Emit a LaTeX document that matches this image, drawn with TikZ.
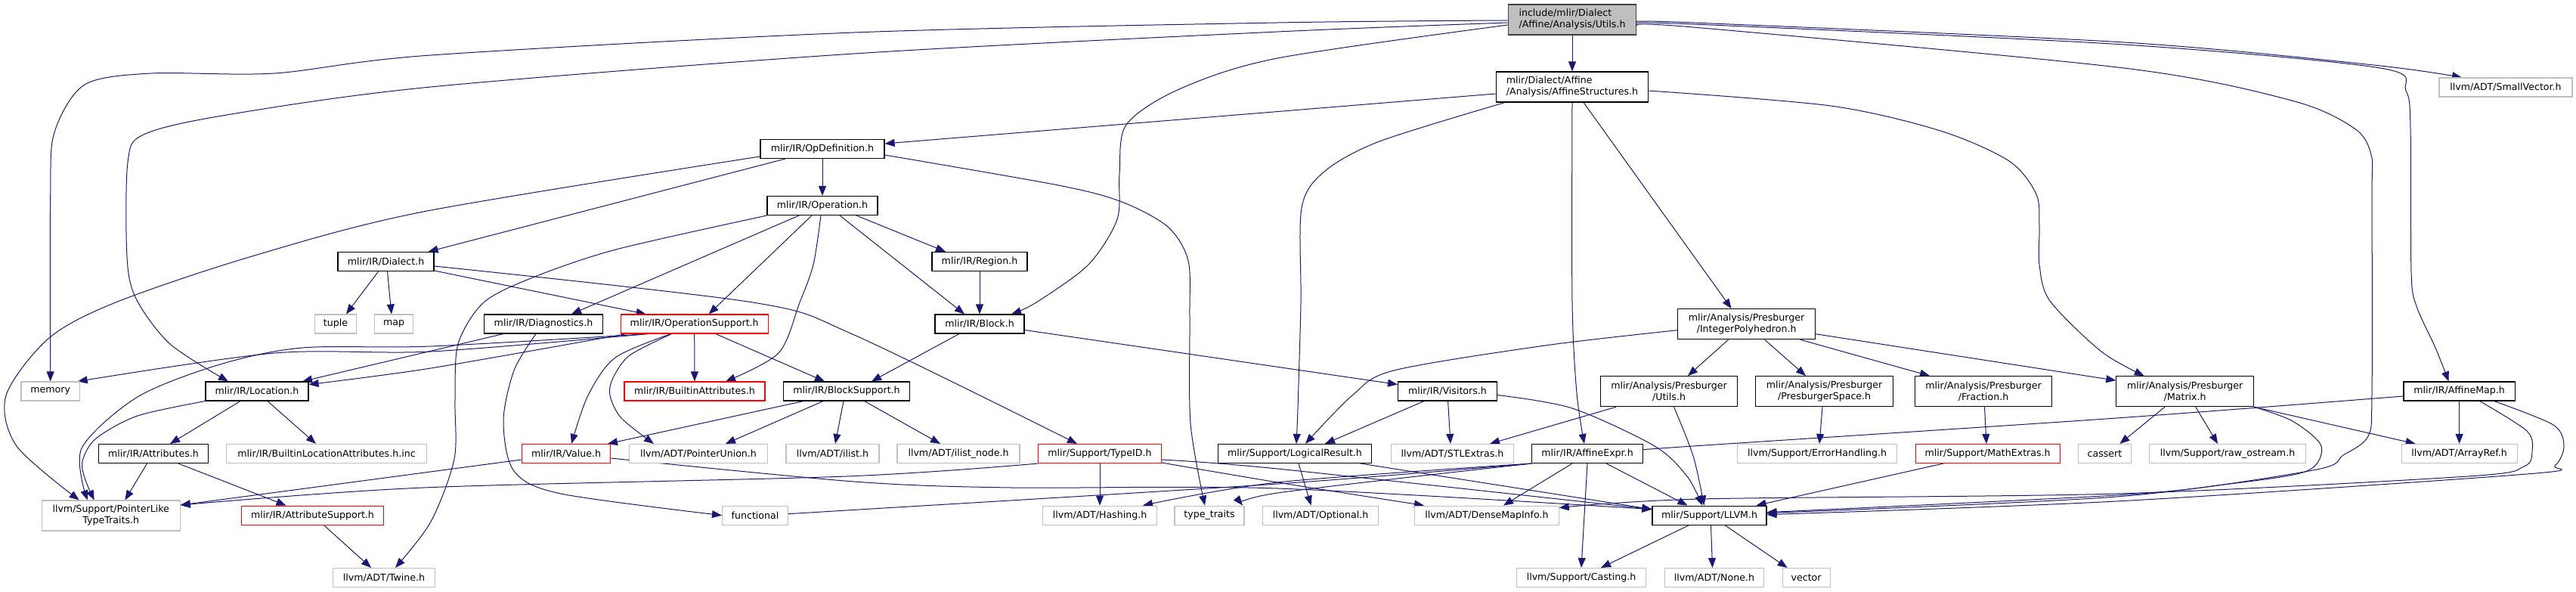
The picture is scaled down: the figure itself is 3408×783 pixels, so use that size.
\documentclass[tikz,border=0pt]{standalone}
\usepackage{fontspec}
\setmainfont{DejaVu Sans}
\usetikzlibrary{arrows.meta,backgrounds}
\definecolor{edgeblue}{HTML}{191970}
\definecolor{greyl}{HTML}{BFBFBF}
\definecolor{greyd}{HTML}{404040}
\tikzset{
  box/.style={draw, line width=1.1pt, inner sep=0pt, minimum height=25pt, fill=white, text=black,
    font=\fontsize{12.6pt}{15pt}\selectfont},
  doc/.style={box, draw=black},
  ext/.style={box, draw=greyl},
  trunc/.style={box, draw=red},
  rootnode/.style={box, draw=greyd, fill=greyl},
  two/.style={minimum height=40pt, align=center},
  edge/.style={draw=edgeblue, line width=1pt, -{Triangle[length=13pt,width=10pt]}}
}
\begin{document}
\begin{tikzpicture}[x=1pt,y=-1pt]
\useasboundingbox (0,0) rectangle (3408,783);
% nodes
\node[rootnode, minimum width=169.5pt, minimum height=40pt, align=left] (root) at (2080,26) {include/mlir/Dialect\\/Affine/Analysis/Utils.h};
\node[doc, minimum width=201.5pt, minimum height=40pt, align=left] (affstr) at (2080,115) {mlir/Dialect/Affine\\/Analysis/AffineStructures.h};
\node[ext, minimum width=176pt] (smallvec) at (3315,115.5) {llvm/ADT/SmallVector.h};
\node[doc, minimum width=164pt] (opdef) at (1088,197) {mlir/IR/OpDefinition.h};
\node[doc, minimum width=146pt] (operation) at (1088,272) {mlir/IR/Operation.h};
\node[doc, minimum width=127pt] (dialect) at (510.5,346) {mlir/IR/Dialect.h};
\node[doc, minimum width=126pt] (region) at (1296,346) {mlir/IR/Region.h};
\node[ext, minimum width=55pt] (tuple) at (444,428.5) {tuple};
\node[ext, minimum width=51pt] (map) at (521,428.5) {map};
\node[doc, minimum width=157pt] (diag) at (719,428.5) {mlir/IR/Diagnostics.h};
\node[trunc, minimum width=195pt] (opsupport) at (918.7,428.5) {mlir/IR/OperationSupport.h};
\node[doc, minimum width=118pt] (block) at (1296,428.5) {mlir/IR/Block.h};
\node[doc, two, minimum width=181.6pt] (intpoly) at (2310.6,428.7) {mlir/Analysis/Presburger\\/IntegerPolyhedron.h};
\node[ext, minimum width=77.4pt] (memory) at (66.7,517.5) {memory};
\node[doc, minimum width=136pt] (location) at (340,517.5) {mlir/IR/Location.h};
\node[trunc, minimum width=186pt] (builtinattr) at (919,517.5) {mlir/IR/BuiltinAttributes.h};
\node[doc, minimum width=167pt] (blocksupport) at (1120,517.5) {mlir/IR/BlockSupport.h};
\node[doc, minimum width=131pt] (visitors) at (1915,517.5) {mlir/IR/Visitors.h};
\node[doc, two, minimum width=181.7pt] (putils) at (2208,517.7) {mlir/Analysis/Presburger\\/Utils.h};
\node[doc, two, minimum width=181.4pt] (pspace) at (2413.6,517.7) {mlir/Analysis/Presburger\\/PresburgerSpace.h};
\node[doc, two, minimum width=181.4pt] (fraction) at (2624,517.7) {mlir/Analysis/Presburger\\/Fraction.h};
\node[doc, two, minimum width=181.7pt] (matrix) at (2890.7,517.7) {mlir/Analysis/Presburger\\/Matrix.h};
\node[doc, minimum width=147.3pt] (affmap) at (3253.6,517.5) {mlir/IR/AffineMap.h};
\node[doc, minimum width=145.5pt] (attributes) at (203,600) {mlir/IR/Attributes.h};
\node[ext, minimum width=265.5pt] (blainc) at (432,600) {mlir/IR/BuiltinLocationAttributes.h.inc};
\node[trunc, minimum width=117.5pt] (value) at (749,600) {mlir/IR/Value.h};
\node[ext, minimum width=183pt] (punion) at (924,600) {llvm/ADT/PointerUnion.h};
\node[ext, minimum width=123pt] (ilist) at (1101.5,600) {llvm/ADT/ilist.h};
\node[ext, minimum width=162pt] (ilistnode) at (1268,600) {llvm/ADT/ilist\_node.h};
\node[trunc, minimum width=163pt] (typeid) at (1455,600) {mlir/Support/TypeID.h};
\node[doc, minimum width=203.7pt] (logres) at (1713,600) {mlir/Support/LogicalResult.h};
\node[ext, minimum width=162.5pt] (stlextras) at (1921.5,600) {llvm/ADT/STLExtras.h};
\node[doc, minimum width=146.7pt] (affexpr) at (2100,600) {mlir/IR/AffineExpr.h};
\node[ext, minimum width=210.4pt] (errhand) at (2404,600) {llvm/Support/ErrorHandling.h};
\node[trunc, minimum width=191pt] (mathextras) at (2629.6,600) {mlir/Support/MathExtras.h};
\node[ext, minimum width=69.3pt] (cassert) at (2784.4,600) {cassert};
\node[ext, minimum width=206.2pt] (rawos) at (2947,600) {llvm/Support/raw\_ostream.h};
\node[ext, minimum width=153pt] (arrayref) at (3253.6,600) {llvm/ADT/ArrayRef.h};
\node[ext, two, minimum width=183pt] (pltt) at (146.7,682) {llvm/Support/PointerLike\\TypeTraits.h};
\node[trunc, minimum width=188pt] (attrsupport) at (413.5,681.6) {mlir/IR/AttributeSupport.h};
\node[ext, minimum width=87pt] (functional) at (999,681.6) {functional};
\node[ext, minimum width=151.4pt] (hashing) at (1455,681.6) {llvm/ADT/Hashing.h};
\node[ext, minimum width=92pt] (typetraits) at (1600,681.6) {type\_traits};
\node[ext, minimum width=153.2pt] (optional) at (1747,681.6) {llvm/ADT/Optional.h};
\node[ext, minimum width=190.4pt] (densemap) at (1967,681.6) {llvm/ADT/DenseMapInfo.h};
\node[doc, minimum width=151pt] (llvm) at (2261.5,681.6) {mlir/Support/LLVM.h};
\node[ext, minimum width=135pt] (twine) at (508,764) {llvm/ADT/Twine.h};
\node[ext, minimum width=170.5pt] (casting) at (2092,764) {llvm/Support/Casting.h};
\node[ext, minimum width=131.6pt] (none) at (2268,764) {llvm/ADT/None.h};
\node[ext, minimum width=63pt] (vector) at (2389.6,764) {vector};
% edges
\begin{scope}[on background layer]
% root
\draw[edge] (root.south) -- (affstr.north);
\draw[edge] plot[smooth] coordinates {([yshift=-3pt]root.east) (2240,30) (2810,56) (3140,86) ([xshift=-58pt]smallvec.north)};
\draw[edge] plot[smooth] coordinates {([yshift=-5pt]root.east) (2240,32) (2810,59) (3149,90) (3183,120) (3189,170) (3190,360) (3197,405) (3222,460) ([xshift=-14pt]affmap.north)};
\draw[edge] plot[smooth] coordinates {([yshift=-8pt]root.east) (2240,36) (2810,90) (3032,133) (3115,170) (3137,205) (3138,260) (3138,520) (3133,577) (3100,602) (3060,622) (2800,657) ([yshift=3pt]llvm.east)};
\draw[edge] plot[smooth] coordinates {([yshift=-1pt]root.west) (1690,30) (1130,43) (570,73) (363,97) (200,97) (112,112) (72,175) (66.7,260) (memory.north)};
\draw[edge] plot[smooth] coordinates {([yshift=-4pt]root.west) (1690,42) (1130,71) (570,115) (300,152) (190,178) (169,215) (168,340) (180,395) (225,455) ([xshift=-38pt]location.north)};
\draw[edge] plot[smooth] coordinates {([yshift=-7pt]root.west) (1690,77) (1560,118) (1490,165) (1481,230) (1478,290) (1440,350) (1371,400) ([xshift=42pt]block.north)};
% affstr
\draw[edge] ([yshift=-9pt]affstr.west) -- ([yshift=7pt]opdef.east);
\draw[edge] plot[smooth] coordinates {([xshift=-89pt]affstr.south) (1825,187) (1752,227) (1722,275) (1721,400) (1717,540) ([xshift=2pt]logres.north)};
\draw[edge] plot[smooth] coordinates {(affstr.south) (2080,400) (2086,520) ([xshift=-4pt]affexpr.north)};
\draw[edge] ([xshift=15pt]affstr.south) -- ([xshift=-20pt]intpoly.north);
\draw[edge] plot[smooth] coordinates {([yshift=-5pt]affstr.east) (2422,140) (2567,173) (2658,213) (2694,257) (2698,300) (2698,350) (2712,398) (2780,465) ([xshift=-54pt]matrix.north)};
% opdef
\draw[edge] (opdef.south) -- (operation.north);
\draw[edge] ([xshift=-49pt]opdef.south) -- ([xshift=56pt]dialect.north);
\draw[edge] plot[smooth] coordinates {([yshift=-10pt]opdef.west) (560,280) (330,340) (153,400) (65,447) (8,523) (22,590) ([xshift=-42pt]pltt.north)};
\draw[edge] plot[smooth] coordinates {([yshift=-8pt]opdef.east) (1400,245) (1484,267) (1545,300) (1572,345) (1574,420) (1575,560) ([xshift=-6pt]typetraits.north)};
% operation
\draw[edge] plot[smooth] coordinates {(operation.south west) (815,330) (705,367) (640,400) (606,455) (602,530) (601,607) (570,690) ([xshift=15pt]twine.north)};
\draw[edge] ([xshift=-31pt]operation.south) -- ([xshift=37pt]diag.north);
\draw[edge] ([xshift=-14pt]operation.south) -- ([xshift=19pt]opsupport.north);
\draw[edge] plot[smooth] coordinates {([xshift=-2pt]operation.south) (1076,350) (1058,400) (1030,467) ([xshift=41pt]builtinattr.north)};
\draw[edge] ([xshift=23pt]operation.south) -- ([xshift=-20pt]block.north);
\draw[edge] ([xshift=45pt]operation.south) -- ([xshift=-45pt]region.north);
% dialect
\draw[edge] ([xshift=-10pt]dialect.south) -- ([xshift=14pt]tuple.north);
\draw[edge] ([xshift=2pt]dialect.south) -- ([xshift=-3pt]map.north);
\draw[edge] ([yshift=-12pt]dialect.east) -- ([xshift=-64pt]opsupport.north);
\draw[edge] plot[smooth] coordinates {([yshift=-6pt]dialect.east) (996,400) (1130,443) ([xshift=-30pt]typeid.north)};
% region
\draw[edge] (region.south) -- (block.north);
% diagnostics
\draw[edge] ([xshift=-53pt]diag.south) -- ([xshift=60pt]location.north);
\draw[edge] plot[smooth] coordinates {([xshift=-10pt]diag.south) (680,490) (666,557) (680,623) (742,653) (functional.west)};
% opsupport
\draw[edge] plot[smooth] coordinates {([xshift=-61pt]opsupport.south) (570,465) (363,467) ([xshift=36pt]memory.north)};
\draw[edge] plot[smooth] coordinates {([xshift=-60pt]opsupport.south) (570,458) (400,460) (291,482) (182,525) (108,593) ([xshift=-31pt]pltt.north)};
\draw[edge] plot[smooth] coordinates {([xshift=-90pt]opsupport.south) (570,487) ([yshift=9pt]location.east)};
\draw[edge] (opsupport.south) -- (builtinattr.north);
\draw[edge] ([xshift=28pt]opsupport.south) -- ([xshift=-29pt]blocksupport.north);
\draw[edge] plot[smooth] coordinates {([xshift=-31pt]opsupport.south) (814,473) (778,523) ([xshift=7pt]value.north)};
\draw[edge] plot[smooth] coordinates {([xshift=-30pt]opsupport.south) (833,470) (811,500) (807,523) (822,553) ([xshift=-59pt]punion.north)};
% location
\draw[edge] ([xshift=-22pt]location.south) -- ([xshift=22pt]attributes.north);
\draw[edge] ([xshift=14pt]location.south) -- ([xshift=-14pt]blainc.north);
\draw[edge] plot[smooth] coordinates {(location.south west) (182,550) (127,580) (109,610) (113,635) ([xshift=-22pt]pltt.north)};
% attributes
\draw[edge] ([xshift=-8.5pt]attributes.south) -- ([xshift=18.7pt]pltt.north);
\draw[edge] ([xshift=33pt]attributes.south) -- ([xshift=-35pt]attrsupport.north);
% attrsupport
\draw[edge] ([xshift=15pt]attrsupport.south) -- ([xshift=-17pt]twine.north);
% value
\draw[edge] ([yshift=-8pt]value.west) -- ([yshift=14pt]pltt.east);
\draw[edge] plot[smooth] coordinates {([yshift=-6pt]value.east) (1130,637) (1338,645) (1690,646) ([yshift=8pt]llvm.west)};
% blocksupport
\draw[edge] ([xshift=-57pt]blocksupport.south) -- ([xshift=55pt]value.north);
\draw[edge] ([xshift=-31pt]blocksupport.south) -- ([xshift=36pt]punion.north);
\draw[edge] ([xshift=-4pt]blocksupport.south) -- ([xshift=3.5pt]ilist.north);
\draw[edge] ([xshift=23.6pt]blocksupport.south) -- ([xshift=-24pt]ilistnode.north);
% block
\draw[edge] ([xshift=-27pt]block.south) -- ([xshift=33pt]blocksupport.north);
\draw[edge] ([yshift=-8pt]block.east) -- ([yshift=9pt]visitors.west);
% visitors
\draw[edge] ([xshift=-31pt]visitors.south) -- ([xshift=40pt]logres.north);
\draw[edge] ([xshift=0.6pt]visitors.south) -- ([xshift=-2.5pt]stlextras.north);
\draw[edge] plot[smooth] coordinates {([yshift=-5pt]visitors.east) (2080,540) (2189,590) (2232,630) ([xshift=-9.5pt]llvm.north)};
% typeid
\draw[edge] (typeid.south) -- (hashing.north);
\draw[edge] plot[smooth] coordinates {(typeid.south west) (1120,630) (560,645) ([yshift=14pt]pltt.east)};
\draw[edge] plot[smooth] coordinates {([yshift=-8pt]typeid.east) (1690,620) ([yshift=8pt]llvm.west)};
\draw[edge] plot[smooth] coordinates {([yshift=-12pt]typeid.east) (1690,638) ([xshift=-83pt]densemap.north)};
% logicalresult
\draw[edge] ([xshift=5pt]logres.south) -- ([xshift=-12.5pt]optional.north);
\draw[edge] ([xshift=87pt]logres.south) -- ([yshift=8pt]llvm.west);
% intpoly
\draw[edge] plot[smooth] coordinates {([yshift=-8pt]intpoly.west) (2044,457) (1844,490) (1789,523) ([xshift=14pt]logres.north)};
\draw[edge] ([xshift=-24pt]intpoly.south) -- ([xshift=25pt]putils.north);
\draw[edge] ([xshift=24pt]intpoly.south) -- ([xshift=-24.6pt]pspace.north);
\draw[edge] ([xshift=71pt]intpoly.south) -- ([xshift=-71pt]fraction.north);
\draw[edge] ([yshift=-13pt]intpoly.east) -- ([yshift=14.5pt]matrix.west);
% presburger utils
\draw[edge] ([xshift=-70pt]putils.south) -- ([xshift=49.5pt]stlextras.north);
\draw[edge] plot[smooth] coordinates {([xshift=6.5pt]putils.south) (2240,603) ([xshift=-7pt]llvm.north)};
% pspace, fraction, mathextras
\draw[edge] ([xshift=-2.6pt]pspace.south) -- ([xshift=3pt]errhand.north);
\draw[edge] ([xshift=1.5pt]fraction.south) -- ([xshift=-1.6pt]mathextras.north);
\draw[edge] ([xshift=-58.6pt]mathextras.south) -- ([xshift=62pt]llvm.north);
% matrix
\draw[edge] ([xshift=-26.7pt]matrix.south) -- ([xshift=20pt]cassert.north);
\draw[edge] ([xshift=14pt]matrix.south) -- ([xshift=-13pt]rawos.north);
\draw[edge] (matrix.south east) -- ([xshift=-58pt]arrayref.north);
\draw[edge] plot[smooth] coordinates {(matrix.south east) (3033,557) (3071,590) (3052,623) (2950,640) (2800,655) ([yshift=4pt]llvm.east)};
% affinemap
\draw[edge] plot[smooth] coordinates {([yshift=-6.5pt]affmap.west) (2800,553) (2240,590) ([yshift=5pt]affexpr.east)};
\draw[edge] (affmap.south) -- (arrayref.north);
\draw[edge] plot[smooth] coordinates {([xshift=27pt]affmap.south) (3343,570) (3350,597) (3339,617) (3265,630) (2800,653) (2250,660) ([yshift=10pt]densemap.east)};
\draw[edge] plot[smooth] coordinates {([xshift=46pt]affmap.south) (3378,562) (3392,590) (3380,616) (3343,627) (2800,663) ([yshift=1pt]llvm.east)};
% affineexpr
\draw[edge] plot[smooth] coordinates {(affexpr.south west) (1690,638) ([xshift=57pt]hashing.north)};
\draw[edge] plot[smooth] coordinates {(affexpr.south west) (1690,640) (1120,675) ([yshift=2pt]functional.east)};
\draw[edge] plot[smooth] coordinates {(affexpr.south west) (1690,652) ([xshift=44pt]typetraits.north)};
\draw[edge] ([xshift=-20pt]affexpr.south) -- ([xshift=22pt]densemap.north);
\draw[edge] (affexpr.south) -- (casting.north);
\draw[edge] ([xshift=25pt]affexpr.south) -- ([xshift=-29pt]llvm.north);
% llvm
\draw[edge] ([xshift=-27pt]llvm.south) -- ([xshift=26pt]casting.north);
\draw[edge] ([xshift=2pt]llvm.south) -- ([xshift=-2.5pt]none.north);
\draw[edge] ([xshift=20.5pt]llvm.south) -- ([xshift=-25pt]vector.north);
\end{scope}
\end{tikzpicture}
\end{document}
